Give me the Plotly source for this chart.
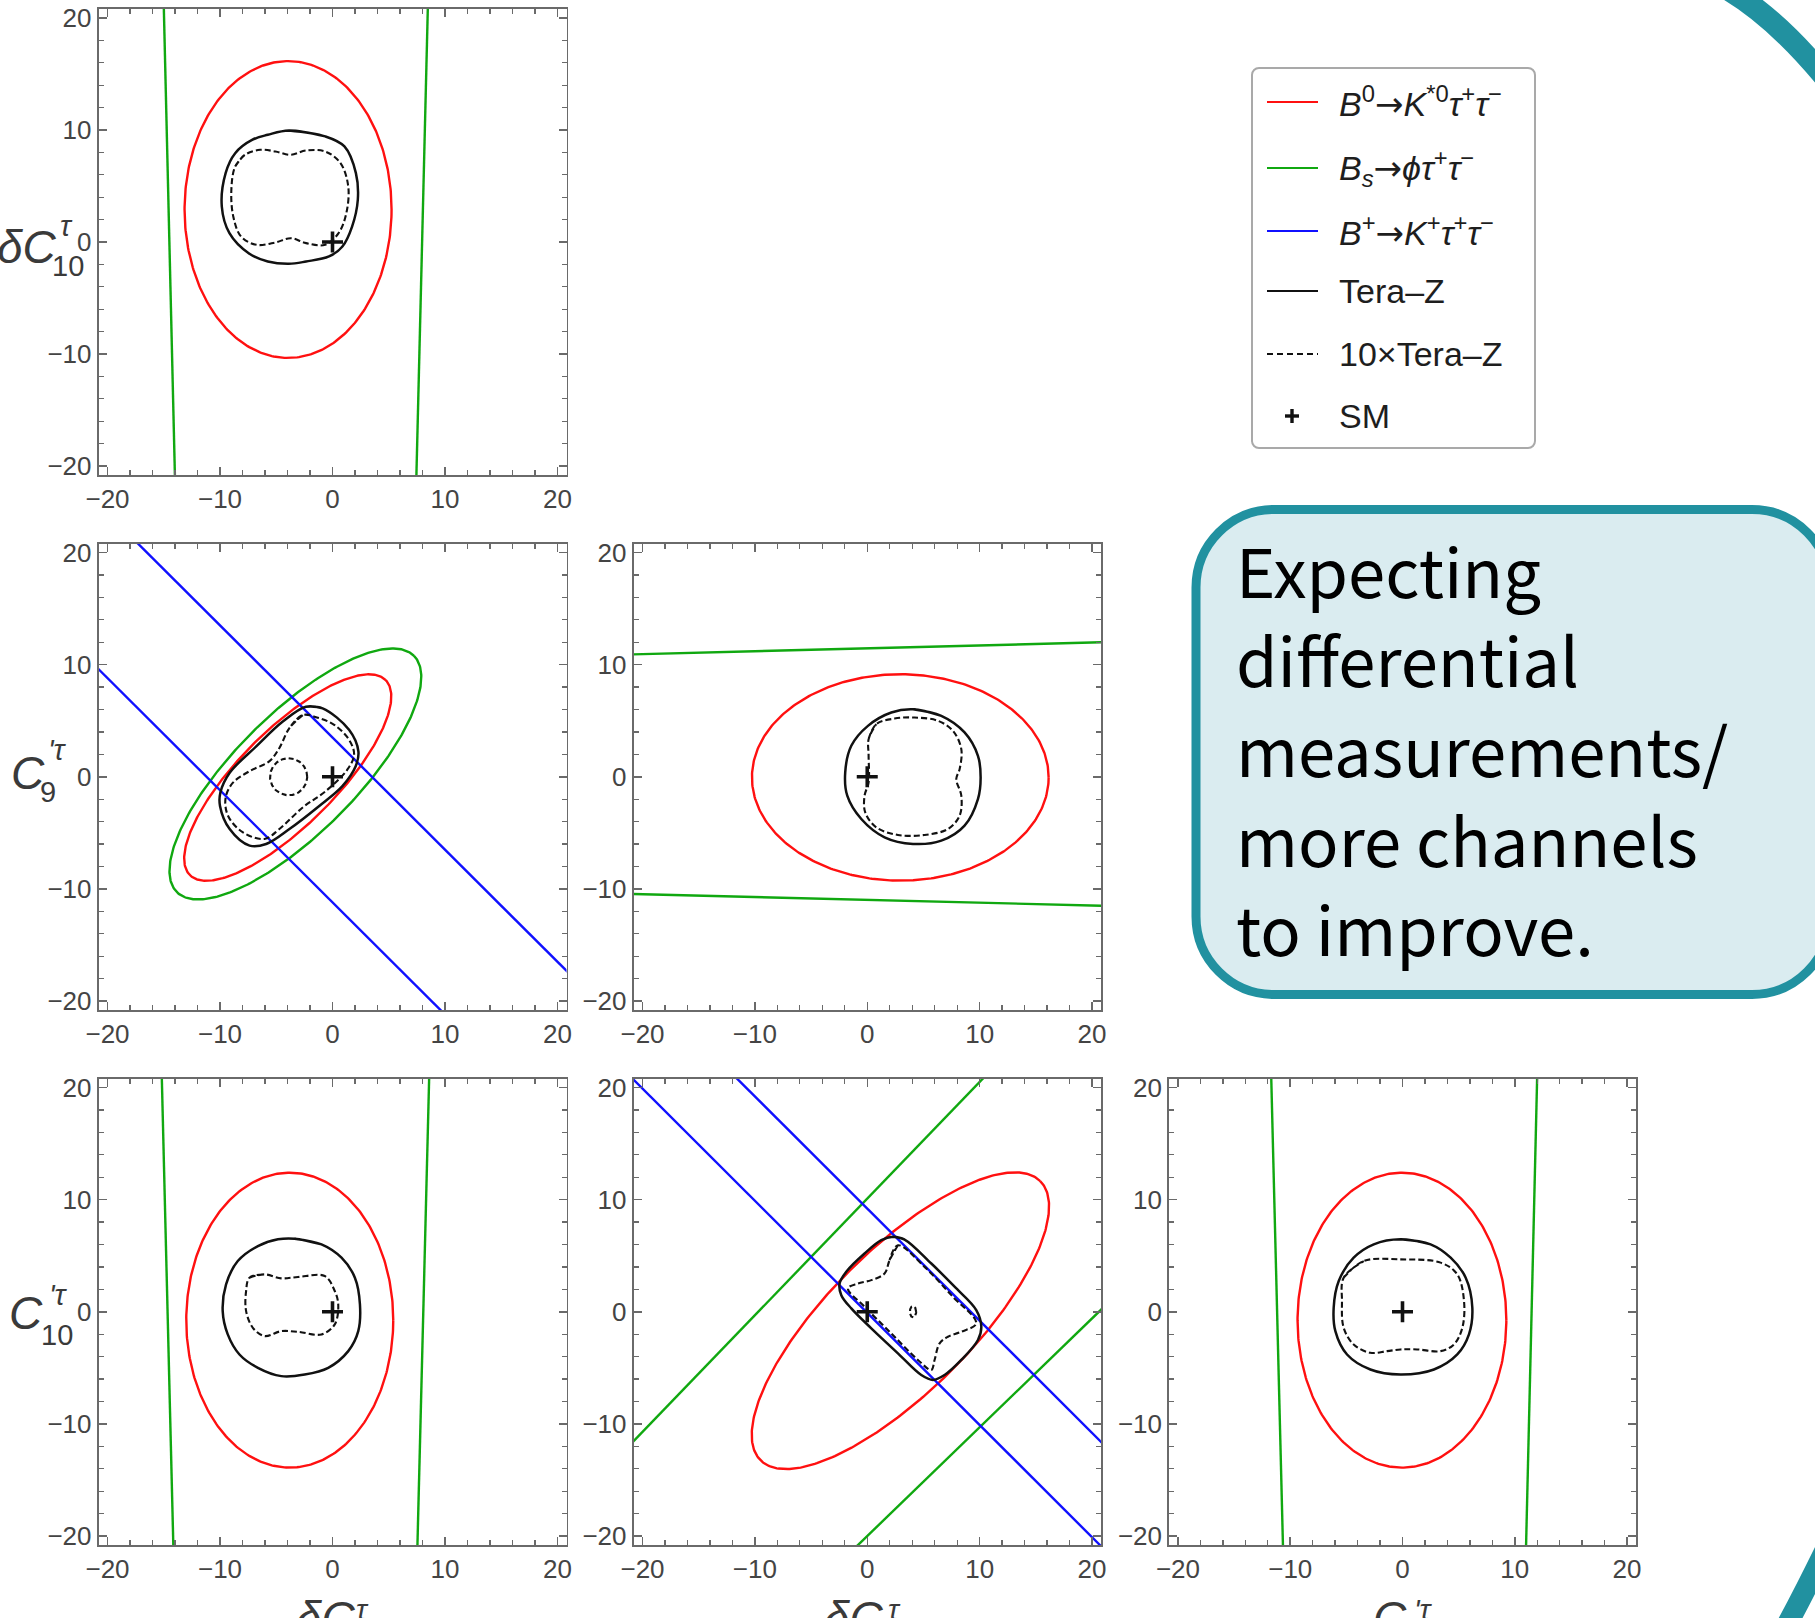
import numpy as np
import plotly.graph_objects as go

W, H = 1815, 1618

# ---------------- data ----------------
AX_RANGE = [-20.8, 20.8]
MAJOR_DTICK = 10
MINOR_DTICK = 2
SM_POINT = [0.0, 0.0]

# B0 -> K*0 tau tau (red) ellipses: [centre x, centre y, semi-axis a, semi-axis b, tilt in degrees]
red_A = [-3.95, 2.90, 9.20, 13.25, 0]
red_B = [-3.98, -0.07, 12.30, 4.27, 45]
red_C = [2.94, -0.06, 13.20, 9.20, 0]
red_D = [-3.80, -0.75, 9.20, 13.15, 0]
red_E = [2.95, -0.80, 17.60, 6.35, 45]
red_F = [-0.05, -0.75, 9.30, 13.15, 0]

# Bs -> phi tau tau (green): one ellipse (panel B) and line pairs [x0, y0, x1, y1]
green_B_ellipse = [-3.30, 0.25, 14.90, 5.34, 45]
green_A_lines = [[-15.02, 22.0, -13.98, -22.0], [8.50, 22.0, 7.43, -22.0]]
green_C_lines = [[-22.0, 10.88, 22.0, 12.02], [-22.0, -10.43, 22.0, -11.53]]
green_D_lines = [[-15.20, 22.0, -14.12, -22.0], [8.62, 22.0, 7.52, -22.0]]
green_E_lines = [[-22.0, -12.80, 11.45, 22.0], [-2.06, -22.0, 22.0, 1.34]]
green_F_lines = [[-11.72, 22.0, -10.62, -22.0], [12.02, 22.0, 10.98, -22.0]]

# B+ -> K+ tau tau (blue) line pairs
blue_B_lines = [[-18.5, 22.0, 22.0, -18.5], [-22.0, 10.8, 10.8, -22.0]]
blue_E_lines = [[-22.0, 21.9, 21.9, -22.0], [-12.8, 22.0, 22.0, -12.8]]

# Tera-Z (solid) and 10 x Tera-Z (dashed) contours
A_solid_x = [-3.88, -0.65, 1.06, 2.08, 2.25, 1.74, 0.88, -0.31, -2.35, -3.88, -5.75, -7.45, -9.16, -9.84, -9.50, -8.65, -7.11, -5.75]
A_solid_y = [9.96, 9.43, 8.53, 6.15, 3.77, 1.38, -0.40, -1.29, -1.74, -1.95, -1.74, -1.00, 0.79, 3.17, 6.15, 7.93, 9.13, 9.57]
A_dash_x = [-8.65, -7.79, -6.43, -5.07, -3.71, -2.35, -0.65, 0.71, 1.40, 1.23, 0.54, -0.65, -2.35, -3.71, -5.07, -6.77, -8.13, -8.82, -8.99]
A_dash_y = [6.74, 7.78, 8.23, 8.08, 7.78, 8.17, 8.08, 7.04, 4.96, 2.58, 0.79, -0.25, -0.10, 0.34, -0.04, -0.25, 0.49, 2.28, 4.66]

B_solid_x = [-2.36, -0.88, 1.47, 2.30, 2.06, 0.88, -1.18, -3.83, -5.90, -7.37, -9.14, -10.00, -9.97, -9.14, -6.78, -4.42]
B_solid_y = [6.25, 6.10, 4.19, 2.27, 0.94, -0.83, -2.60, -4.66, -6.00, -6.14, -4.66, -2.60, -1.42, 0.35, 2.71, 4.93]
B_dash_x = [-2.65, -3.83, -4.72, -5.60, -7.37, -8.85, -9.50, -9.29, -7.96, -6.05, -4.72, -2.65, -0.59, 1.33, 1.92, 1.47, 0.15, -1.18]
B_dash_y = [5.50, 4.34, 2.57, 1.39, 0.50, -0.53, -1.86, -3.48, -4.96, -5.55, -4.66, -2.74, -1.27, 0.65, 1.98, 3.30, 4.63, 5.22]
B_dash_island = [-3.90, 0.00, 1.65, 1.65, 0]

C_solid_x = [4.07, 6.59, 8.66, 9.85, 10.09, 9.85, 8.66, 6.59, 4.07, 1.54, -0.53, -1.78, -1.96, -1.42, 0.06, 2.14]
C_solid_y = [6.02, 5.43, 3.95, 1.87, -0.06, -1.99, -4.36, -5.70, -5.99, -5.40, -3.77, -1.69, 0.39, 2.76, 4.54, 5.73]
C_dash_x = [0.12, 0.80, 2.43, 4.21, 6.29, 7.63, 8.37, 8.22, 7.92, 8.37, 8.22, 7.18, 5.10, 2.73, 0.80, -0.18, -0.24, 0.12, 0.12]
C_dash_y = [3.35, 4.69, 5.19, 5.28, 4.99, 4.09, 2.46, 0.68, -0.21, -1.69, -3.47, -4.66, -5.19, -5.19, -4.51, -3.18, -1.69, -0.50, 1.87]

D_solid_x = [-3.37, -0.98, 0.80, 1.99, 2.44, 2.29, 1.40, -0.38, -2.47, -4.55, -6.63, -8.27, -9.31, -9.76, -9.46, -8.42, -6.63, -4.85]
D_solid_y = [6.52, 6.01, 4.82, 3.04, 0.65, -1.73, -3.51, -5.00, -5.60, -5.74, -5.00, -3.81, -2.02, 0.06, 2.44, 4.52, 5.86, 6.46]
D_dash_x = [-7.38, -6.04, -4.55, -3.07, -0.69, 0.20, 0.51, 0.20, -0.98, -3.07, -4.55, -6.04, -7.08, -7.68, -7.68]
D_dash_y = [3.04, 3.33, 2.98, 3.10, 3.19, 1.85, 0.65, -1.13, -2.02, -1.79, -1.73, -2.17, -1.43, 0.06, 1.85]

E_solid_x = [2.28, 3.32, 5.70, 7.77, 9.70, 10.15, 9.85, 8.37, 6.88, 5.85, 4.81, 2.73, 0.36, -1.42, -2.31, -2.46, -1.87, -0.24, 1.25]
E_solid_y = [6.68, 6.44, 4.30, 2.23, 0.15, -1.34, -2.52, -4.30, -5.64, -6.08, -5.64, -3.71, -1.48, 0.30, 1.48, 2.52, 3.56, 5.19, 6.38]
E_dash_x = [2.73, 1.99, 1.54, 0.36, -0.83, -1.72, -0.24, 2.14, 4.51, 5.70, 5.99, 6.44, 7.18, 8.37, 9.70, 7.48, 5.10]
E_dash_y = [5.93, 4.60, 3.41, 2.82, 2.52, 2.08, 0.45, -1.93, -4.30, -5.19, -4.30, -2.82, -2.23, -1.78, -1.04, 1.48, 4.00]
E_dash_island = [4.07, 0.00, 0.28, 0.50, 0]

F_solid_x = [-0.18, 2.50, 4.29, 5.63, 6.22, 5.92, 4.88, 2.80, -0.18, -2.86, -4.94, -5.98, -6.13, -5.68, -4.35, -2.56]
F_solid_y = [6.46, 6.01, 4.82, 3.04, 0.36, -2.02, -3.81, -5.15, -5.60, -5.15, -3.81, -1.73, 0.36, 2.74, 4.82, 6.01]
F_dash_x = [-5.24, -3.45, -0.18, 3.39, 4.88, 5.48, 5.33, 4.58, 3.39, 1.31, -0.18, -1.37, -2.86, -4.35, -5.24, -5.39]
F_dash_y = [3.04, 4.52, 4.67, 4.38, 3.33, 0.95, -1.43, -2.92, -3.51, -3.36, -3.36, -3.51, -3.66, -2.92, -1.43, 0.95]

ARROW = '<span style="font-family:DejaVu Sans">→</span>'
legend_labels = [
    "<i>B</i><sup>0</sup>" + ARROW + "<i>K</i><sup>*0</sup><i>τ</i><sup>+</sup><i>τ</i><sup>−</sup>",
    "<i>B</i><sub><i>s</i></sub>" + ARROW + "<i>ϕτ</i><sup>+</sup><i>τ</i><sup>−</sup>",
    "<i>B</i><sup>+</sup>" + ARROW + "<i>K</i><sup>+</sup><i>τ</i><sup>+</sup><i>τ</i><sup>−</sup>",
    "Tera–Z",
    "10×Tera–Z",
    "SM",
]
box_lines = ["Expecting", "differential", "measurements/", "more channels", "to improve."]

# ---------------- styling / layout (not data) ----------------
RED, GREEN, BLUE, BLACK = "#ff1010", "#10a810", "#1010ff", "#111111"
FRAME = "#6a6a6a"
TEAL = "#2191a0"
BOXFILL = "#daecf0"
TICKFONT = dict(family="Liberation Sans, Arial, sans-serif", size=26, color="#444444")
LBLFONT = "Liberation Sans, Arial, sans-serif"

COL_PX = [(98.5, 566.5), (633.5, 1101.0), (1169.0, 1636.0)]
ROW_PX = [(9.0, 475.0), (543.5, 1010.0), (1078.5, 1545.0)]

panels = {
    "A": dict(row=0, col=0, red=red_A, green_lines=green_A_lines, green_ell=None, blue=[],
              solid=(A_solid_x, A_solid_y), dash=(A_dash_x, A_dash_y), islands=[]),
    "B": dict(row=1, col=0, red=red_B, green_lines=[], green_ell=green_B_ellipse, blue=blue_B_lines,
              solid=(B_solid_x, B_solid_y), dash=(B_dash_x, B_dash_y), islands=[B_dash_island]),
    "C": dict(row=1, col=1, red=red_C, green_lines=green_C_lines, green_ell=None, blue=[],
              solid=(C_solid_x, C_solid_y), dash=(C_dash_x, C_dash_y), islands=[]),
    "D": dict(row=2, col=0, red=red_D, green_lines=green_D_lines, green_ell=None, blue=[],
              solid=(D_solid_x, D_solid_y), dash=(D_dash_x, D_dash_y), islands=[]),
    "E": dict(row=2, col=1, red=red_E, green_lines=green_E_lines, green_ell=None, blue=blue_E_lines,
              solid=(E_solid_x, E_solid_y), dash=(E_dash_x, E_dash_y), islands=[E_dash_island]),
    "F": dict(row=2, col=2, red=red_F, green_lines=green_F_lines, green_ell=None, blue=[],
              solid=(F_solid_x, F_solid_y), dash=(F_dash_x, F_dash_y), islands=[]),
}


def ellipse(p, n=361):
    cx, cy, a, b, ang = p
    t = np.linspace(0, 2 * np.pi, n)
    th = np.deg2rad(ang)
    x = cx + a * np.cos(t) * np.cos(th) - b * np.sin(t) * np.sin(th)
    y = cy + a * np.cos(t) * np.sin(th) + b * np.sin(t) * np.cos(th)
    return x, y


def closed(xs, ys):
    return list(xs) + [xs[0], xs[1]], list(ys) + [ys[0], ys[1]]


def P(xpx, ypx):
    return xpx / W, 1 - ypx / H


fig = go.Figure()
layout_axes = {}

for idx, (name, p) in enumerate(panels.items(), start=1):
    xa = "x" if idx == 1 else f"x{idx}"
    ya = "y" if idx == 1 else f"y{idx}"
    kw = dict(xaxis=xa, yaxis=ya, showlegend=False, hoverinfo="skip")

    ex, ey = ellipse(p["red"])
    fig.add_trace(go.Scatter(x=ex, y=ey, mode="lines", line=dict(color=RED, width=2.4), **kw))
    if p["green_ell"] is not None:
        gx, gy = ellipse(p["green_ell"])
        fig.add_trace(go.Scatter(x=gx, y=gy, mode="lines", line=dict(color=GREEN, width=2.4), **kw))
    for seg in p["green_lines"]:
        fig.add_trace(go.Scatter(x=[seg[0], seg[2]], y=[seg[1], seg[3]], mode="lines",
                                 line=dict(color=GREEN, width=2.4), **kw))
    for seg in p["blue"]:
        fig.add_trace(go.Scatter(x=[seg[0], seg[2]], y=[seg[1], seg[3]], mode="lines",
                                 line=dict(color=BLUE, width=2.4), **kw))
    sx, sy = closed(*p["solid"])
    fig.add_trace(go.Scatter(x=sx, y=sy, mode="lines", line=dict(color=BLACK, width=2.5, shape="spline", smoothing=1.0), **kw))
    dx, dy = closed(*p["dash"])
    fig.add_trace(go.Scatter(x=dx, y=dy, mode="lines",
                             line=dict(color=BLACK, width=2.1, dash="6px,3px", shape="spline", smoothing=1.0), **kw))
    for isl in p["islands"]:
        ix, iy = ellipse(isl, 120)
        fig.add_trace(go.Scatter(x=ix, y=iy, mode="lines", line=dict(color=BLACK, width=2.1, dash="5px,3px"), **kw))
    fig.add_trace(go.Scatter(x=[SM_POINT[0]], y=[SM_POINT[1]], mode="markers",
                             marker=dict(symbol="cross-thin", size=15, line=dict(width=3.6, color=BLACK)), **kw))

    (x0, x1) = COL_PX[p["col"]]
    (y0, y1) = ROW_PX[p["row"]]
    common = dict(range=AX_RANGE, tick0=0, dtick=MAJOR_DTICK, showgrid=False, zeroline=False,
                  showline=True, mirror="allticks", linecolor=FRAME, linewidth=1.8,
                  ticks="inside", ticklen=8, tickwidth=1.5, tickcolor=FRAME,
                  minor=dict(ticks="inside", ticklen=5, tickwidth=1.3, tickcolor=FRAME,
                             tick0=0, dtick=MINOR_DTICK, showgrid=False),
                  tickfont=TICKFONT, fixedrange=True, automargin=False)
    layout_axes["xaxis" if idx == 1 else f"xaxis{idx}"] = dict(
        common, domain=[x0 / W, x1 / W], anchor=ya, ticklabelstandoff=0)
    layout_axes["yaxis" if idx == 1 else f"yaxis{idx}"] = dict(
        common, domain=[1 - y1 / H, 1 - y0 / H], anchor=xa, ticklabelstandoff=0)

fig.update_layout(**layout_axes)

annotations = []
shapes = []


def add_text(xpx, ypx, text, size, xanchor="center", yanchor="middle", family=LBLFONT, color="#3a3a3a"):
    x, y = P(xpx, ypx)
    annotations.append(dict(x=x, y=y, xref="paper", yref="paper", text=text, showarrow=False,
                            xanchor=xanchor, yanchor=yanchor,
                            font=dict(family=family, size=size, color=color)))


# y-axis titles (left)
add_text(59, 247, "<i>δC</i>", 46, xanchor="right")
add_text(66, 226, "<i>τ</i>", 29)
add_text(68, 266, "10", 29)

add_text(47, 773, "<i>C</i>", 46, xanchor="right")
add_text(57, 750, "<i>'τ</i>", 29)
add_text(48, 792, "9", 29)

add_text(45, 1313, "<i>C</i>", 46, xanchor="right")
add_text(58, 1295, "<i>'τ</i>", 29)
add_text(57, 1335, "10", 29)

# x-axis titles (bottom, cut by the canvas edge)
add_text(358, 1590, "<i>δC</i>", 46, xanchor="right", yanchor="top")
add_text(362, 1592, "<i>τ</i>", 29, yanchor="top")
add_text(886, 1590, "<i>δC</i>", 46, xanchor="right", yanchor="top")
add_text(894, 1592, "<i>τ</i>", 29, yanchor="top")
add_text(1409, 1590, "<i>C</i>", 46, xanchor="right", yanchor="top")
add_text(1423, 1592, "<i>'τ</i>", 29, yanchor="top")


def rounded_path(x0, y0, x1, y1, r):
    k = 0.5523 * r
    pts = [("M", [(x0 + r, y0)]), ("L", [(x1 - r, y0)]),
           ("C", [(x1 - r + k, y0), (x1, y0 + r - k), (x1, y0 + r)]), ("L", [(x1, y1 - r)]),
           ("C", [(x1, y1 - r + k), (x1 - r + k, y1), (x1 - r, y1)]), ("L", [(x0 + r, y1)]),
           ("C", [(x0 + r - k, y1), (x0, y1 - r + k), (x0, y1 - r)]), ("L", [(x0, y0 + r)]),
           ("C", [(x0, y0 + r - k), (x0 + r - k, y0), (x0 + r, y0)])]
    s = ""
    for cmd, cs in pts:
        s += cmd + " ".join("%.6f,%.6f" % P(a, b) for a, b in cs) + " "
    return s + "Z"


# legend box
shapes.append(dict(type="path", xref="paper", yref="paper", path=rounded_path(1252, 68, 1535, 448, 7),
                   line=dict(color="#a9a9a9", width=2), fillcolor="white", layer="above"))
legend_y = [102, 168, 231, 291, 354, 416]
legend_styles = [(RED, "solid"), (GREEN, "solid"), (BLUE, "solid"), (BLACK, "solid"), (BLACK, "6px,4px")]
for (col, dash), yy in zip(legend_styles, legend_y):
    xa_, ya_ = P(1267, yy)
    xb_, yb_ = P(1318, yy)
    shapes.append(dict(type="line", xref="paper", yref="paper", x0=xa_, y0=ya_, x1=xb_, y1=yb_,
                       line=dict(color=col, width=2.2, dash=dash), layer="above"))
# SM cross in legend
cx_, cy_ = 1292, legend_y[5]
for (a0, b0, a1, b1) in [(cx_ - 7, cy_, cx_ + 7, cy_), (cx_, cy_ - 7, cx_, cy_ + 7)]:
    p0 = P(a0, b0)
    p1 = P(a1, b1)
    shapes.append(dict(type="line", xref="paper", yref="paper", x0=p0[0], y0=p0[1], x1=p1[0], y1=p1[1],
                       line=dict(color=BLACK, width=3.4), layer="above"))
for lbl, yy in zip(legend_labels, legend_y):
    add_text(1337, yy, lbl, 34, xanchor="left", color="#1e1e1e")

# text box
shapes.append(dict(type="path", xref="paper", yref="paper", path=rounded_path(1196, 509.5, 1830, 994.5, 78),
                   line=dict(color=TEAL, width=9), fillcolor=BOXFILL, layer="above"))
for i, line in enumerate(box_lines):
    add_text(1234, 568 + 89.7 * i, line, 67, xanchor="left",
             family="Noto Sans CJK SC, Noto Sans, sans-serif", color="black")


# decorative teal arcs of the slide background
def qpath(a, c, b):
    return "M%.6f,%.6f Q%.6f,%.6f %.6f,%.6f" % (*P(*a), *P(*c), *P(*b))


shapes.append(dict(type="path", xref="paper", yref="paper", path=qpath((1722, -14), (1776, 16), (1832, 86)),
                   line=dict(color=TEAL, width=22), layer="above"))
shapes.append(dict(type="path", xref="paper", yref="paper", path=qpath((1782, 1634), (1805, 1592), (1832, 1536)),
                   line=dict(color=TEAL, width=21), layer="above"))

fig.update_layout(width=W, height=H, margin=dict(l=0, r=0, t=0, b=0, autoexpand=False),
                  paper_bgcolor="white", plot_bgcolor="white", showlegend=False,
                  annotations=annotations, shapes=shapes)

fig.write_html("out.html", config={"displayModeBar": False, "staticPlot": True},
               post_script="document.body.style.margin='0px';document.body.style.overflow='hidden';")
